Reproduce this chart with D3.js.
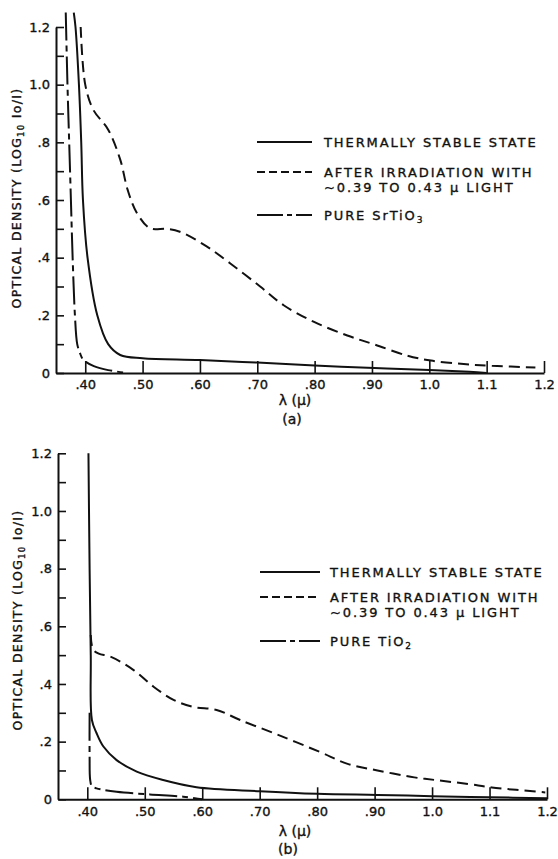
<!DOCTYPE html>
<html><head><meta charset="utf-8">
<script src="https://cdn.jsdelivr.net/npm/d3@7"></script>
<style>
body{margin:0;background:#fff;}
svg text{font-family:"DejaVu Sans",sans-serif;fill:#111;stroke:#111;stroke-width:0.35px;}
</style></head>
<body>
<svg id="c" width="558" height="859"></svg>
<script>
// ---- data ----
const xTickValues = [0.40,0.50,0.60,0.70,0.80,0.90,1.0,1.1,1.2];
const xTickLabels = [".40",".50",".60",".70",".80",".90","1.0","1.1","1.2"];
const yTickValues = [0,0.1,0.2,0.3,0.4,0.5,0.6,0.7,0.8,0.9,1.0,1.1,1.2];
const yTickLabels = ["0","",".2","",".4","",".6","",".8","","1.0","","1.2"];

// panel (a) : SrTiO3
const aStableX = [0.380,0.383,0.389,0.393,0.396,0.404,0.421,0.440,0.461,0.50,0.60,0.70,0.80,0.904,1.0,1.07,1.10];
const aStableY = [1.25,1.20,1.00,0.80,0.60,0.40,0.20,0.10,0.0625,0.051,0.045,0.036,0.026,0.017,0.010,0.004,0.0];
const aIrrX = [0.392,0.400,0.414,0.440,0.461,0.474,0.490,0.513,0.542,0.565,0.611,0.653,0.705,0.746,0.799,0.857,0.904,0.962,1.003,1.06,1.109,1.185];
const aIrrY = [1.20,1.00,0.913,0.844,0.74,0.635,0.555,0.502,0.50,0.49,0.44,0.38,0.30,0.235,0.177,0.130,0.099,0.060,0.043,0.031,0.025,0.019];
const aPureX = [0.366,0.369,0.372,0.375,0.378,0.382,0.386,0.391,0.395,0.400,0.415,0.440,0.466];
const aPureY = [1.25,1.00,0.80,0.60,0.40,0.20,0.10,0.068,0.05,0.040,0.024,0.010,0.002];

// panel (b) : TiO2
const bStableX = [0.402,0.404,0.406,0.408,0.416,0.428,0.451,0.486,0.532,0.59,0.70,0.80,0.905,1.0,1.1,1.2];
const bStableY = [1.20,0.80,0.50,0.275,0.23,0.183,0.136,0.096,0.067,0.042,0.028,0.019,0.015,0.011,0.007,0.004];
const bIrrX = [0.406,0.410,0.420,0.440,0.480,0.515,0.550,0.585,0.625,0.666,0.730,0.805,0.853,0.905,0.969,1.005,1.063,1.104,1.197];
const bIrrY = [0.57,0.52,0.505,0.495,0.449,0.391,0.345,0.320,0.310,0.275,0.225,0.164,0.123,0.100,0.076,0.067,0.053,0.041,0.024];
const bPureX = [0.404,0.404,0.405,0.408,0.416,0.451,0.509,0.567,0.60];
const bPureY = [0.30,0.15,0.067,0.045,0.038,0.026,0.017,0.009,0.0];

const legendA = ["THERMALLY STABLE STATE","AFTER IRRADIATION WITH","~0.39 TO 0.43 μ LIGHT","PURE SrTiO"];
const legendB = ["THERMALLY STABLE STATE","AFTER IRRADIATION WITH","~0.39 TO 0.43 μ LIGHT","PURE TiO"];

// ---- drawing ----
const svg = d3.select("#c");
const dashStyle = {solid:null, dashed:"11,6", dashdot:"28,5,6,5"};
const legendDash = {solid:null, dashed:"8,4", dashdot:"26,4,5,4"};

function panel(cfg){
  const g = svg.append("g");
  const x = d3.scaleLinear().domain([0.349,1.2]).range([cfg.x0,cfg.x1]);
  const y = d3.scaleLinear().domain([0,1.2]).range([cfg.y0,cfg.y1]);

  const xa = d3.axisBottom(x).tickValues(xTickValues)
     .tickFormat((d,i)=>xTickLabels[i]).tickSizeInner(-12).tickSizeOuter(0).tickPadding(7);
  const gx = g.append("g").attr("transform",`translate(0,${cfg.y0})`).call(xa);
  gx.select(".domain").attr("stroke","#111").attr("stroke-width",2);
  gx.selectAll(".tick line").attr("stroke","#111").attr("stroke-width",1.6);
  gx.selectAll(".tick text").attr("font-size",13).attr("font-family","DejaVu Sans").attr("fill","#111");

  const ya = d3.axisLeft(y).tickValues(yTickValues)
     .tickFormat((d,i)=>yTickLabels[i]).tickSizeInner(-8).tickSizeOuter(0).tickPadding(6);
  const gy = g.append("g").attr("transform",`translate(${cfg.x0},0)`).call(ya);
  gy.select(".domain").attr("stroke","#111").attr("stroke-width",2);
  gy.selectAll(".tick line").attr("stroke","#111").attr("stroke-width",1.6);
  gy.selectAll(".tick text").attr("font-size",13).attr("font-family","DejaVu Sans").attr("fill","#111");

  const line = d3.line().x(d=>x(d[0])).y(d=>y(d[1])).curve(d3.curveCatmullRom.alpha(0.5));
  cfg.series.forEach(s=>{
    const pts = s.x.map((v,i)=>[v,s.y[i]]);
    g.append("path").attr("d",line(pts)).attr("fill","none").attr("stroke","#111")
      .attr("stroke-width",2).attr("stroke-dasharray",dashStyle[s.style]);
  });

  // axis titles
  const yt = g.append("text").attr("transform",`translate(${cfg.ytx},${cfg.yty}) rotate(-90)`)
     .attr("text-anchor","middle").attr("font-size",12.5).attr("letter-spacing",1.3);
  yt.append("tspan").text("OPTICAL  DENSITY  (LOG");
  yt.append("tspan").text("10").attr("font-size",8.5).attr("dy",3);
  yt.append("tspan").text(" Io/I)").attr("dy",-3);
  g.append("text").attr("x",cfg.xtx).attr("y",cfg.xty).attr("text-anchor","middle")
     .attr("font-size",14).text("λ (μ)");
  g.append("text").attr("x",cfg.lx).attr("y",cfg.ly).attr("text-anchor","middle")
     .attr("font-size",14).text(cfg.label);

  // legend
  const L = cfg.legend;
  const styles = ["solid","dashed","dashdot"];
  const rows = [L.r1, L.r2, L.r4];
  styles.forEach((st,i)=>{
    g.append("line").attr("x1",L.lx0).attr("x2",L.lx1).attr("y1",rows[i]).attr("y2",rows[i])
      .attr("stroke","#111").attr("stroke-width",2).attr("stroke-dasharray",legendDash[st]);
  });
  const txt = (t,yy)=>g.append("text").attr("x",L.tx).attr("y",yy+4.8)
      .attr("font-size",13).attr("letter-spacing",1.9).text(t);
  txt(cfg.ltext[0],L.r1);
  txt(cfg.ltext[1],L.r2);
  txt(cfg.ltext[2],L.r3);
  const p = txt(cfg.ltext[3],L.r4);
  p.append("tspan").text(cfg.sub).attr("font-size",9).attr("dy",3);
}

panel({x0:56,x1:544,y0:373,y1:27,
  series:[{x:aStableX,y:aStableY,style:"solid"},{x:aIrrX,y:aIrrY,style:"dashed"},{x:aPureX,y:aPureY,style:"dashdot"}],
  ytx:21,yty:198,xtx:295,xty:405,lx:292,ly:424,label:"(a)",
  legend:{lx0:257,lx1:312,tx:324,r1:142,r2:172,r3:187,r4:215},
  ltext:legendA, sub:"3"});

panel({x0:58,x1:547,y0:799.3,y1:453.3,
  series:[{x:bStableX,y:bStableY,style:"solid"},{x:bIrrX,y:bIrrY,style:"dashed"},{x:bPureX,y:bPureY,style:"dashdot"}],
  ytx:22,yty:620,xtx:295,xty:836,lx:288,ly:854,label:"(b)",
  legend:{lx0:260,lx1:320,tx:330,r1:572,r2:597,r3:612,r4:641},
  ltext:legendB, sub:"2"});
</script>
</body></html>
